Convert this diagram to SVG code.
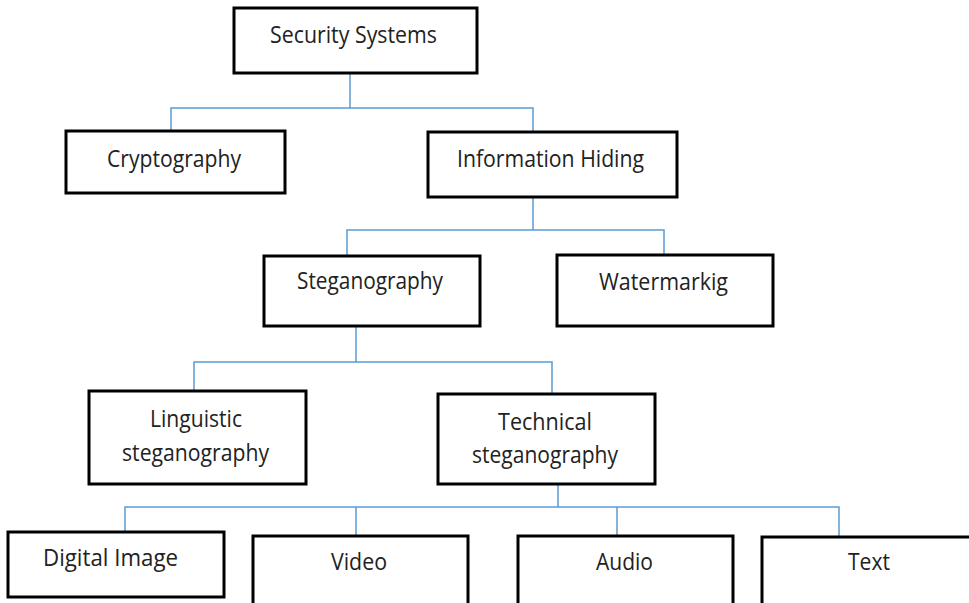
<svg xmlns="http://www.w3.org/2000/svg" width="969" height="603" viewBox="0 0 969 603">
<style>
.box{fill:#fff;stroke:#000;stroke-width:3}
.lbl{font-family:"Open Sans","Liberation Sans",sans-serif;font-size:23px;fill:#222;text-anchor:middle}
.conn{fill:none;stroke:#5b9bd5;stroke-width:1.5}
</style>
<rect width="969" height="603" fill="#fff"/>
<g id="connectors">
<path class="conn" d="M350 73V108M171 131V108H533V132"/>
<path class="conn" d="M533 197V230M347 256V230H664V255"/>
<path class="conn" d="M356 326V362M194 391V362H552V394"/>
<path class="conn" d="M558 484V507M125 532V507H839V537M356 507V536M617 507V536"/>
</g>
<g id="security-systems">
<rect class="box" x="234" y="8" width="243" height="65"/>
<text class="lbl" x="353.5" y="43" textLength="167" lengthAdjust="spacingAndGlyphs">Security Systems</text>
</g>
<g id="cryptography">
<rect class="box" x="66" y="131" width="219" height="62"/>
<text class="lbl" x="174" y="167" textLength="134" lengthAdjust="spacingAndGlyphs">Cryptography</text>
</g>
<g id="information-hiding">
<rect class="box" x="428" y="132" width="249" height="65"/>
<text class="lbl" x="550.5" y="167" textLength="187" lengthAdjust="spacingAndGlyphs">Information Hiding</text>
</g>
<g id="steganography">
<rect class="box" x="264" y="256" width="216" height="70"/>
<text class="lbl" x="370" y="289" textLength="146" lengthAdjust="spacingAndGlyphs">Steganography</text>
</g>
<g id="watermarkig">
<rect class="box" x="557" y="255" width="216" height="71"/>
<text class="lbl" x="663.5" y="290" textLength="129" lengthAdjust="spacingAndGlyphs">Watermarkig</text>
</g>
<g id="linguistic-steganography">
<rect class="box" x="89" y="391" width="217" height="93"/>
<text class="lbl" x="196" y="427" textLength="92" lengthAdjust="spacingAndGlyphs">Linguistic</text>
<text class="lbl" x="195.5" y="461" textLength="147" lengthAdjust="spacingAndGlyphs">steganography</text>
</g>
<g id="technical-steganography">
<rect class="box" x="438" y="394" width="217" height="90"/>
<text class="lbl" x="545" y="430" textLength="94" lengthAdjust="spacingAndGlyphs">Technical</text>
<text class="lbl" x="545" y="463" textLength="146" lengthAdjust="spacingAndGlyphs">steganography</text>
</g>
<g id="digital-image">
<rect class="box" x="8" y="532" width="216" height="65"/>
<text class="lbl" x="110.5" y="566" textLength="135" lengthAdjust="spacingAndGlyphs">Digital Image</text>
</g>
<g id="video">
<rect class="box" x="253" y="536" width="215" height="72"/>
<text class="lbl" x="359" y="570" textLength="56" lengthAdjust="spacingAndGlyphs">Video</text>
</g>
<g id="audio">
<rect class="box" x="518" y="536" width="215" height="72"/>
<text class="lbl" x="624.5" y="570" textLength="57" lengthAdjust="spacingAndGlyphs">Audio</text>
</g>
<g id="text">
<rect class="box" x="762" y="537" width="212" height="71"/>
<text class="lbl" x="869" y="570" textLength="42" lengthAdjust="spacingAndGlyphs">Text</text>
</g>
</svg>
